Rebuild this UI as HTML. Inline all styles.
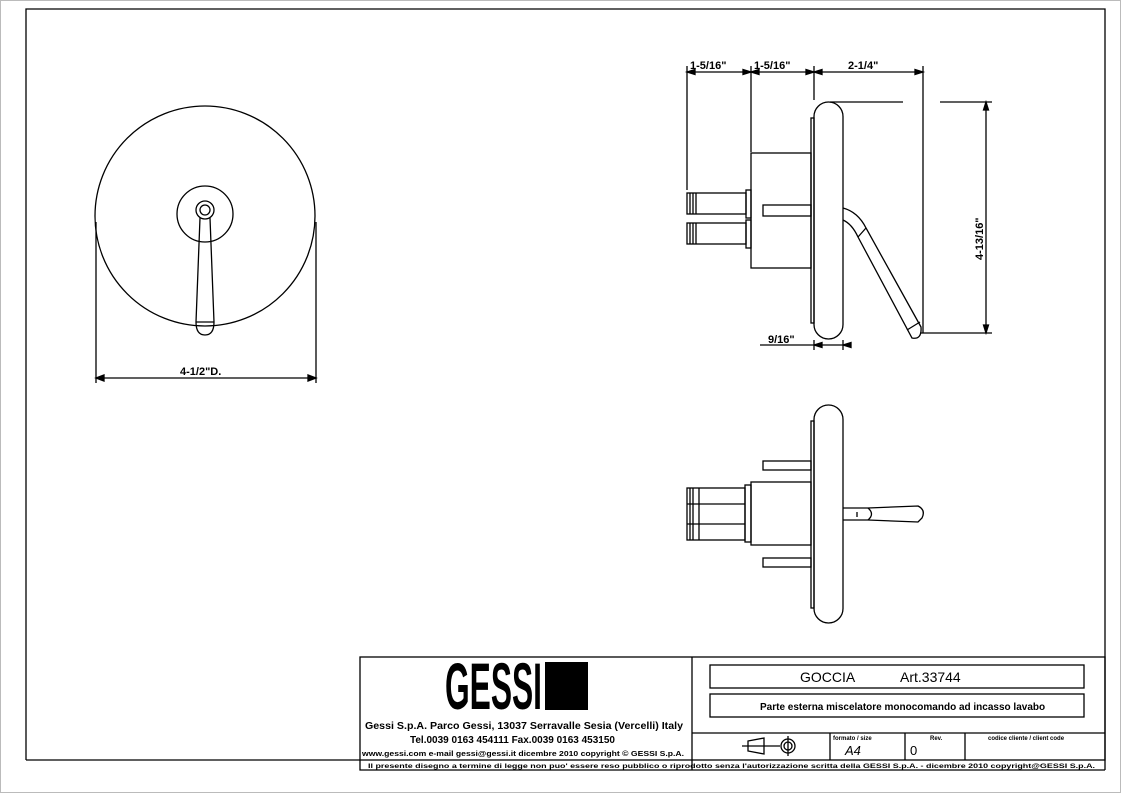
<!DOCTYPE html>
<html><head><meta charset="utf-8"><style>
html,body{margin:0;padding:0;background:#fff}
svg{display:block}
text{font-family:"Liberation Sans",sans-serif;font-weight:bold;fill:#000}
</style></head><body>
<svg width="1121" height="793" viewBox="0 0 1121 793" xmlns="http://www.w3.org/2000/svg">
<rect x="0.5" y="0.5" width="1120" height="792" fill="#fff" stroke="#bbb"/>
<g fill="none" stroke="#000" stroke-width="1.3">
<path d="M26 760 V9 H1105 V770"/>
<path d="M26 760 H360"/>
<circle cx="205" cy="216" r="110"/>
<circle cx="205" cy="214" r="28"/>
<circle cx="205" cy="210" r="9"/>
<circle cx="205" cy="210" r="5"/>
<path d="M200 218 L196 322 Q196 335 205 335 Q214 335 214 322 L210 218"/>
<path d="M196 322 H214"/>
<path d="M96 222 V383 M316 222 V383 M96 378 H316"/>
<path d="M96 378 l8 -3 v6 z M316 378 l-8 -3 v6 z" fill="#000"/>
<path d="M687 72 H923 M687 66 V190 M751 66 V152 M814 66 V100 M923 66 V333"/>
<path d="M687 72 l8 -2.5 v5z M751 72 l-8 -2.5 v5z M751 72 l8 -2.5 v5z M814 72 l-8 -2.5 v5z M814 72 l8 -2.5 v5z M923 72 l-8 -2.5 v5z" fill="#000"/>
<path d="M830 102 H903 M940 102 H992 M920 333 H992 M986 102 V333"/>
<path d="M986 102 l-2.5 8 h5z M986 333 l-2.5 -8 h5z" fill="#000"/>
<rect x="814" y="102" width="29" height="237" rx="14.5"/>
<rect x="811" y="118" width="3" height="205"/>
<rect x="751" y="153" width="60" height="115"/>
<rect x="687" y="193" width="59" height="21"/>
<rect x="687" y="223" width="59" height="21"/>
<path d="M690 193 V214 M693 193 V214 M696 193 V214 M690 223 V244 M693 223 V244 M696 223 V244"/>
<rect x="746" y="190" width="5" height="28"/>
<rect x="746" y="220" width="5" height="28"/>
<rect x="763" y="205" width="48" height="11"/>
<path d="M843 208 Q858 212 866 228 L921 327 Q922 340 912 338 L858 237 Q852 224 843 220"/>
<path d="M858 237 L866 228 M907 330 L920 322"/>
<path d="M814 340 V350 M843 340 V350 M760 345 H850"/>
<path d="M814 345 l8 -2.5 v5z M843 345 l8 -2.5 v5z" fill="#000"/>
<rect x="814" y="405" width="29" height="218" rx="14.5"/>
<rect x="811" y="421" width="3" height="187"/>
<rect x="751" y="482" width="60" height="63"/>
<rect x="745" y="485" width="6" height="57"/>
<rect x="687" y="488" width="58" height="52"/>
<path d="M690 488 V540 M693 488 V540 M699 488 V540 M687 504 H745 M687 524 H745"/>
<rect x="763" y="461" width="48" height="9"/>
<rect x="763" y="558" width="48" height="9"/>
<path d="M843 508 H868 L918 506 Q926 510 922 518 L918 522 L868 520 H843"/>
<path d="M868 508 Q875 514 868 520 M857 512 V517"/>
<rect x="360" y="657" width="745" height="103"/>
<path d="M692 657 V770 M692 733 H1105 M360 760 V770 H1105 M830 733 V760 M905 733 V760 M965 733 V760"/>
<rect x="710" y="665" width="374" height="23"/>
<rect x="710" y="694" width="374" height="23"/>
<path d="M748 741 L764 738 V754 L748 751 Z M742 746 H780"/>
<circle cx="788" cy="746" r="7"/><circle cx="788" cy="746" r="4"/>
<path d="M788 736 V756"/>
</g>
<text x="445" y="709" font-size="66" textLength="97" lengthAdjust="spacingAndGlyphs">GESSI</text>
<rect x="545" y="662" width="43" height="48" fill="#000"/>
<g font-size="11">
<text x="180" y="375">4-1/2"D.</text>
<text x="690" y="69">1-5/16"</text>
<text x="754" y="69">1-5/16"</text>
<text x="848" y="69">2-1/4"</text>
<text x="768" y="343">9/16"</text>
<text x="983" y="260" transform="rotate(-90 983 260)">4-13/16"</text>
</g>
<text x="365" y="729" font-size="10" textLength="318" lengthAdjust="spacingAndGlyphs">Gessi S.p.A. Parco Gessi, 13037 Serravalle Sesia (Vercelli) Italy</text>
<text x="410" y="743" font-size="10" textLength="205" lengthAdjust="spacingAndGlyphs">Tel.0039 0163 454111 Fax.0039 0163 453150</text>
<text x="362" y="756" font-size="7.5" textLength="322" lengthAdjust="spacingAndGlyphs">www.gessi.com e-mail gessi@gessi.it dicembre 2010 copyright © GESSI S.p.A.</text>
<text x="800" y="682" font-size="14" style="font-weight:normal">GOCCIA</text>
<text x="900" y="682" font-size="14" style="font-weight:normal">Art.33744</text>
<text x="760" y="710" font-size="10">Parte esterna miscelatore monocomando ad incasso lavabo</text>
<text x="833" y="740" font-size="6">formato / size</text>
<text x="930" y="740" font-size="6">Rev.</text>
<text x="988" y="740" font-size="6">codice cliente / client code</text>
<text x="845" y="755" font-size="13" style="font-style:italic;font-weight:normal">A4</text>
<text x="910" y="755" font-size="13" style="font-weight:normal">0</text>
<text x="368" y="768" font-size="6.5" textLength="727" lengthAdjust="spacingAndGlyphs">Il presente disegno a termine di legge non puo' essere reso pubblico o riprodotto senza l'autorizzazione scritta della GESSI S.p.A. - dicembre 2010 copyright@GESSI S.p.A.</text>
</svg>
</body></html>
